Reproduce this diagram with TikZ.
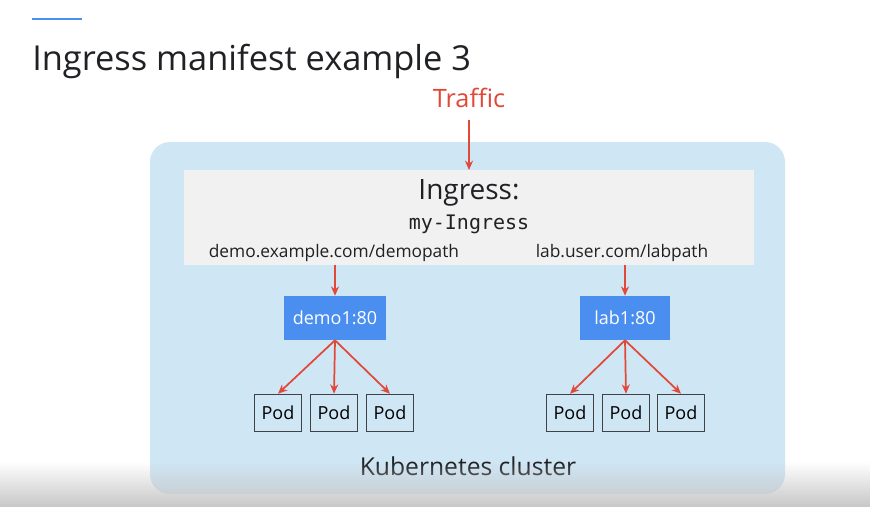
\documentclass[tikz,border=0pt]{standalone}
\usepackage{fontspec}
\setmainfont{Open Sans}
\setmonofont{DejaVu Sans Mono}
\usetikzlibrary{arrows.meta,fadings}
\definecolor{gblue}{RGB}{74,142,240}
\definecolor{gred}{RGB}{226,72,56}
\definecolor{clusterbg}{RGB}{207,230,245}
\definecolor{ingressbg}{RGB}{241,241,241}
\definecolor{textgray}{RGB}{32,33,36}
\tikzset{
	redarrow/.style={draw=gred, line width=1.3pt, -{Stealth[length=7pt,width=6pt]}},
	svcbox/.style={fill=gblue, text=white, minimum height=33pt, inner sep=0pt, font=\fontsize{13.5}{16}\selectfont},
	podbox/.style={draw=textgray!85, line width=0.9pt, minimum width=35.5pt, minimum height=28pt, inner sep=0pt, font=\fontsize{13.5}{16}\selectfont},
	pathlabel/.style={text=textgray, font=\fontsize{13}{15}\selectfont}
}
\begin{document}
\begin{tikzpicture}[x=0.75pt, y=-0.75pt]
		\useasboundingbox (0,0) rectangle (870,507);
		\fill[white] (0,0) rectangle (870,507);
		\draw[gblue, line width=1.6pt] (32,19) -- (82,19);
		\node [anchor=base west, text=textgray, inner sep=0pt, font=\fontsize{25.8}{31}\selectfont] (title) at (32,70) {Ingress manifest example 3};
		\fill[clusterbg, rounded corners=15pt] (150,142) rectangle (785,494);
		\fill[ingressbg] (184,170) rectangle (754,265);
		\node [text=gred, inner sep=0pt, font=\fontsize{19}{22}\selectfont] (traffic) at (469,98) {Traffic};
		\coordinate (ingresstop) at (469,170);
		\node [inner sep=0pt, text=textgray, font=\fontsize{21}{25}\selectfont] (ingress) at (469,193) {Ingress:};
		\node [inner sep=0pt, text=textgray, font=\ttfamily\fontsize{15}{18}\selectfont] (myingress) at (469,224) {my-Ingress};
		\node [pathlabel, inner sep=0pt] (demopath) at (334,253) {demo.example.com/demopath};
		\node [pathlabel, inner sep=0pt] (labpath) at (622,253) {lab.user.com/labpath};
		\coordinate (demoout) at (335,265);
		\coordinate (labout) at (625,265);
		\node [svcbox, minimum width=76pt] (demo) at (335,318) {demo1:80};
		\node [svcbox, minimum width=67pt] (lab) at (625,318) {lab1:80};
		\node [podbox] (pod1) at (278,413) {Pod};
		\node [podbox] (pod2) at (334,413) {Pod};
		\node [podbox] (pod3) at (390,413) {Pod};
		\node [podbox] (pod4) at (570,413) {Pod};
		\node [podbox] (pod5) at (626,413) {Pod};
		\node [podbox] (pod6) at (681,413) {Pod};
		\node [inner sep=0pt, text=textgray, font=\fontsize{18.5}{22}\selectfont] (cluster) at (468,466) {Kubernetes cluster};
		\draw [redarrow] (traffic.south) ++(0,12) -- (ingresstop);
		\draw [redarrow] (demoout) to (demo.north);
		\draw [redarrow] (labout) to (lab.north);
		\draw [redarrow] (demo.south) to (pod1.north);
		\draw [redarrow] (demo.south) to (pod2.north);
		\draw [redarrow] (demo.south) to (pod3.north);
		\draw [redarrow] (lab.south) to (pod4.north);
		\draw [redarrow] (lab.south) to (pod5.north);
		\draw [redarrow] (lab.south) to (pod6.north);
		\fill[black!22, path fading=north] (0,462) rectangle (870,507);
\end{tikzpicture}
\end{document}
